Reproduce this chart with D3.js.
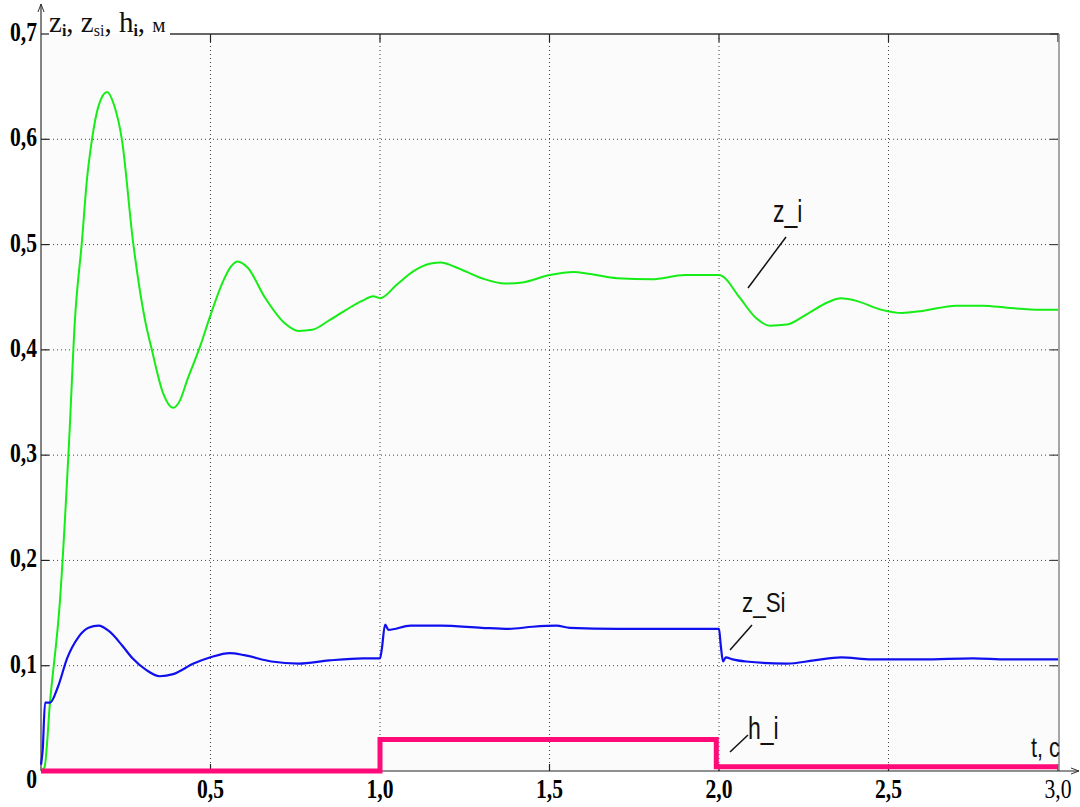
<!DOCTYPE html>
<html>
<head>
<meta charset="utf-8">
<script src="https://cdn.jsdelivr.net/npm/d3@7"></script>
<style>
  body { margin: 0; background: #fff; }
  svg { display: block; }
</style>
</head>
<body>
<div id="chart"></div>
<script>
// z_i curve
var tZ = [0, 0.01, 0.027, 0.056, 0.083, 0.1, 0.121, 0.135, 0.15, 0.17, 0.195, 0.215, 0.239, 0.271, 0.307, 0.327, 0.36, 0.39, 0.41, 0.431, 0.469, 0.5, 0.537, 0.56, 0.58, 0.61, 0.66, 0.72, 0.76, 0.8, 0.85, 0.9, 0.95, 0.98, 1.0, 1.05, 1.1, 1.15, 1.18, 1.22, 1.3, 1.37, 1.42, 1.5, 1.57, 1.62, 1.7, 1.8, 1.9, 2.0, 2.01, 2.06, 2.11, 2.15, 2.2, 2.26, 2.32, 2.36, 2.4, 2.48, 2.54, 2.6, 2.7, 2.78, 2.85, 2.95, 3.0];
var zI = [0, 0.003, 0.067, 0.162, 0.314, 0.428, 0.504, 0.56, 0.599, 0.632, 0.645, 0.633, 0.599, 0.504, 0.428, 0.4, 0.359, 0.345, 0.352, 0.371, 0.403, 0.433, 0.465, 0.479, 0.484, 0.478, 0.45, 0.425, 0.418, 0.419, 0.428, 0.438, 0.447, 0.451, 0.449, 0.462, 0.475, 0.482, 0.483, 0.479, 0.468, 0.463, 0.464, 0.471, 0.474, 0.472, 0.468, 0.467, 0.471, 0.471, 0.47, 0.45, 0.43, 0.423, 0.424, 0.434, 0.445, 0.449, 0.447, 0.438, 0.435, 0.437, 0.442, 0.442, 0.44, 0.438, 0.438];

// z_Si curve
var tS = [0, 0.005, 0.012, 0.027, 0.05, 0.077, 0.11, 0.14, 0.17, 0.2, 0.24, 0.27, 0.31, 0.35, 0.39, 0.45, 0.5, 0.557, 0.6, 0.68, 0.76, 0.85, 0.95, 1.0, 1.005, 1.015, 1.025, 1.09, 1.18, 1.3, 1.38, 1.45, 1.52, 1.56, 1.7, 1.9, 2.0, 2.005, 2.012, 2.02, 2.04, 2.08, 2.2, 2.28, 2.36, 2.45, 2.6, 2.75, 2.85, 3.0];
var zSi = [0.006, 0.02, 0.065, 0.065, 0.08, 0.107, 0.127, 0.136, 0.138, 0.133, 0.119, 0.107, 0.096, 0.09, 0.092, 0.102, 0.108, 0.112, 0.11, 0.104, 0.102, 0.105, 0.107, 0.107, 0.115, 0.139, 0.134, 0.138, 0.138, 0.136, 0.135, 0.137, 0.138, 0.136, 0.135, 0.135, 0.135, 0.12, 0.104, 0.108, 0.106, 0.104, 0.102, 0.105, 0.108, 0.106, 0.106, 0.107, 0.106, 0.106];

// h_i step
var tH = [0, 1.0, 1.0, 1.992, 1.992, 3.0];
var hI = [0, 0, 0.03, 0.03, 0.004, 0.004];

var yTicks = [0, 0.1, 0.2, 0.3, 0.4, 0.5, 0.6, 0.7];
var xTicks = [0.5, 1.0, 1.5, 2.0, 2.5, 3.0];
var fmt = function(d) { return d === 0 ? "0" : d3.format(".1f")(d).replace(".", ","); };

var W = 1080, H = 807;
var x = d3.scaleLinear().domain([0, 3]).range([41, 1058]);
var y = d3.scaleLinear().domain([0, 0.7]).range([771, 34]);

var svg = d3.select("#chart").append("svg")
            .attr("width", W)
            .attr("height", H);

svg.append("rect")
   .attr("x", x(0)).attr("y", y(0.7))
   .attr("width", x(3) - x(0)).attr("height", y(0) - y(0.7))
   .attr("fill", "#fbfbfb");

// dotted grid
svg.selectAll(".gy").data(yTicks.filter(function(d) { return d > 0 && d < 0.7; }))
   .enter().append("line")
   .attr("x1", x(0)).attr("x2", x(3))
   .attr("y1", function(d) { return y(d); }).attr("y2", function(d) { return y(d); })
   .attr("stroke", "#444").attr("stroke-width", 1).attr("stroke-dasharray", "1,3");

svg.selectAll(".gx").data(xTicks.filter(function(d) { return d < 3; }))
   .enter().append("line")
   .attr("x1", function(d) { return x(d); }).attr("x2", function(d) { return x(d); })
   .attr("y1", y(0.7)).attr("y2", y(0))
   .attr("stroke", "#444").attr("stroke-width", 1).attr("stroke-dasharray", "1,3");

// small solid ticks on the frame
svg.selectAll(".tl").data(yTicks.filter(function(d) { return d > 0; }))
   .enter().append("line")
   .attr("x1", x(0)).attr("x2", x(0) + 8)
   .attr("y1", function(d) { return y(d); }).attr("y2", function(d) { return y(d); })
   .attr("stroke", "#222").attr("stroke-width", 1.2);
svg.selectAll(".tr").data(yTicks.filter(function(d) { return d > 0; }))
   .enter().append("line")
   .attr("x1", x(3) - 8).attr("x2", x(3))
   .attr("y1", function(d) { return y(d); }).attr("y2", function(d) { return y(d); })
   .attr("stroke", "#444").attr("stroke-width", 1.2);
svg.selectAll(".tt").data(xTicks)
   .enter().append("line")
   .attr("x1", function(d) { return x(d); }).attr("x2", function(d) { return x(d); })
   .attr("y1", y(0.7)).attr("y2", y(0.7) + 8)
   .attr("stroke", "#222").attr("stroke-width", 1.2);
svg.selectAll(".tb").data(xTicks)
   .enter().append("line")
   .attr("x1", function(d) { return x(d); }).attr("x2", function(d) { return x(d); })
   .attr("y1", y(0)).attr("y2", y(0) - 7)
   .attr("stroke", "#222").attr("stroke-width", 1.2);

// frame: top line, right side, axes with arrows
svg.append("line").attr("x1", 170).attr("x2", x(3) + 1)
   .attr("y1", y(0.7)).attr("y2", y(0.7))
   .attr("stroke", "#333").attr("stroke-width", 1.5);
svg.append("line").attr("x1", x(3) + 1).attr("x2", x(3) + 1)
   .attr("y1", y(0.7)).attr("y2", y(0))
   .attr("stroke", "#888").attr("stroke-width", 1.5);
svg.append("line").attr("x1", x(0)).attr("x2", x(0))
   .attr("y1", 4).attr("y2", y(0))
   .attr("stroke", "#333").attr("stroke-width", 1.2);
svg.append("path").attr("d", "M" + (x(0) - 3) + ",12 L" + x(0) + ",4 L" + (x(0) + 3) + ",12")
   .attr("fill", "none").attr("stroke", "#333").attr("stroke-width", 1);
svg.append("line").attr("x1", x(0)).attr("x2", 1079)
   .attr("y1", y(0)).attr("y2", y(0))
   .attr("stroke", "#222").attr("stroke-width", 1.2);
svg.append("path").attr("d", "M1071," + (y(0) - 3) + " L1079," + y(0) + " L1071," + (y(0) + 3))
   .attr("fill", "none").attr("stroke", "#333").attr("stroke-width", 1);

// tick labels
svg.selectAll(".yl").data(yTicks)
   .enter().append("text")
   .attr("transform", function(d) { return "translate(37," + (d === 0 ? y(d) + 17 : y(d) + 7) + ") scale(0.8,1)"; })
   .attr("text-anchor", "end")
   .style("font-family", "'Liberation Serif', serif")
   .style("font-weight", "bold")
   .style("font-size", "27px")
   .text(fmt);

svg.selectAll(".xl").data(xTicks)
   .enter().append("text")
   .attr("transform", function(d) { return "translate(" + x(d) + ",798) scale(0.8,1)"; })
   .attr("text-anchor", "middle")
   .style("font-family", "'Liberation Serif', serif")
   .style("font-weight", function(d) { return d === 3 ? "normal" : "bold"; })
   .style("font-size", "27px")
   .text(fmt);

// axis title
var title = svg.append("text")
   .attr("transform", "translate(49,32)")
   .style("font-family", "'Liberation Serif', serif")
   .style("font-size", "29px")
   .attr("fill", "#111");
title.append("tspan").text("z");
title.append("tspan").attr("dy", 4).style("font-size", "16px").style("font-weight", "bold").text("i");
title.append("tspan").attr("dy", -4).text(", z");
title.append("tspan").attr("dy", 4).style("font-size", "16px").text("si");
title.append("tspan").attr("dy", -4).text(", h");
title.append("tspan").attr("dy", 4).style("font-size", "16px").style("font-weight", "bold").text("i");
title.append("tspan").attr("dy", -4).text(", ");
title.append("tspan").style("font-size", "21px").text("м");

// series
var line = d3.line()
             .x(function(d) { return x(d[0]); })
             .y(function(d) { return y(d[1]); })
             .curve(d3.curveMonotoneX);

svg.append("path")
   .attr("d", line(d3.zip(tZ, zI)))
   .attr("fill", "none").attr("stroke", "#16ec16").attr("stroke-width", 2);

svg.append("path")
   .attr("d", line(d3.zip(tS, zSi)))
   .attr("fill", "none").attr("stroke", "#1010ee").attr("stroke-width", 2.2);

svg.append("path")
   .attr("d", line.curve(d3.curveLinear)(d3.zip(tH, hI)))
   .attr("fill", "none").attr("stroke", "#ff0a78").attr("stroke-width", 5);

// curve labels with leader lines
var labels = [
  { text: "z_i", tx: 773, ty: 222, size: 32, sx: 0.72, lx1: 748, ly1: 288, lx2: 786, ly2: 237 },
  { text: "z_Si", tx: 742, ty: 612, size: 28, sx: 0.8, lx1: 730, ly1: 650, lx2: 752, ly2: 625 },
  { text: "h_i", tx: 748, ty: 739, size: 32, sx: 0.72, lx1: 730, ly1: 752, lx2: 748, ly2: 735 }
];
labels.forEach(function(l) {
  svg.append("line").attr("x1", l.lx1).attr("y1", l.ly1).attr("x2", l.lx2).attr("y2", l.ly2)
     .attr("stroke", "#111").attr("stroke-width", 1.5);
  svg.append("text")
     .attr("transform", "translate(" + l.tx + "," + l.ty + ") scale(" + l.sx + ",1)")
     .style("font-family", "'Liberation Sans', Arial, sans-serif")
     .style("font-size", l.size + "px")
     .attr("fill", "#111")
     .text(l.text);
});

svg.append("text")
   .attr("transform", "translate(1031,757) scale(0.8,1)")
   .style("font-family", "'Liberation Sans', Arial, sans-serif")
   .style("font-size", "27px")
   .attr("fill", "#111")
   .text("t, c");
</script>
</body>
</html>
